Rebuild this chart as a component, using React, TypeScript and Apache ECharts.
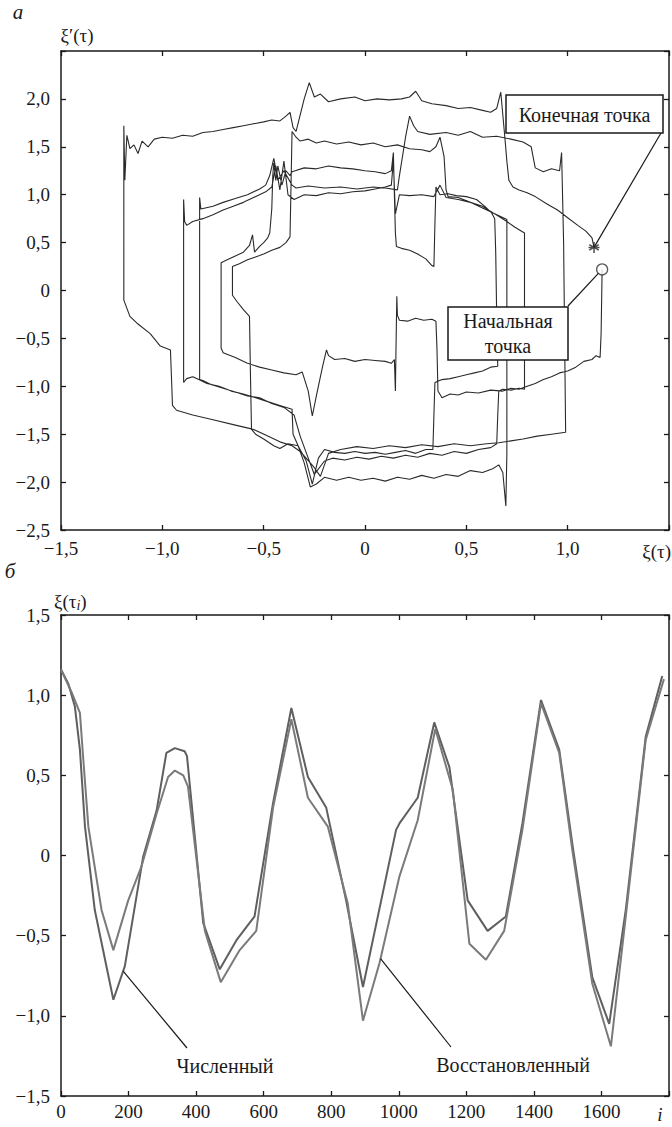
import React, { useEffect, useRef } from "react";
import * as echarts from "echarts";

// ---------- Top chart (а): phase portrait ξ'(τ) vs ξ(τ) ----------
const phaseB1: number[][] = [
  [1.17, 0.22], [1.168, -0.05], [1.165, -0.45], [1.16, -0.7], [1.14, -0.68], [1.12, -0.72], [1.08, -0.74],
  [1.04, -0.8], [1.0, -0.84], [0.96, -0.86], [0.92, -0.9], [0.88, -0.93], [0.84, -0.97], [0.8, -1.0],
  [0.76, -1.03], [0.72, -1.02], [0.68, -1.05], [0.62, -1.04], [0.56, -1.07], [0.5, -1.06], [0.46, -1.09],
  [0.42, -1.08], [0.38, -1.12], [0.36, -1.05], [0.355, -0.6], [0.35, -0.32], [0.33, -0.3], [0.29, -0.31],
  [0.25, -0.29], [0.21, -0.32], [0.17, -0.31], [0.16, -0.26], [0.157, -0.06], [0.153, -0.6], [0.15, -1.05],
  [0.145, -0.72], [0.13, -0.76], [0.1, -0.74], [0.05, -0.73], [0.0, -0.72], [-0.05, -0.74], [-0.1, -0.71],
  [-0.15, -0.72], [-0.18, -0.68], [-0.19, -0.62], [-0.21, -0.8], [-0.24, -1.1], [-0.26, -1.31], [-0.28, -1.05],
  [-0.31, -0.85], [-0.34, -0.88], [-0.4, -0.86], [-0.46, -0.83], [-0.52, -0.8], [-0.58, -0.76], [-0.64, -0.7],
  [-0.7, -0.65], [-0.71, -0.6],
];
const phaseT1: number[][] = [
  [-0.71, 0.0], [-0.71, 0.29], [-0.68, 0.32], [-0.64, 0.36], [-0.6, 0.4], [-0.57, 0.47], [-0.555, 0.58],
  [-0.545, 0.4], [-0.52, 0.46], [-0.5, 0.5], [-0.48, 0.55], [-0.47, 0.6], [-0.46, 0.85], [-0.455, 1.2],
  [-0.45, 1.33], [-0.44, 1.15], [-0.43, 1.3], [-0.41, 1.1], [-0.39, 1.25], [-0.37, 1.2], [-0.36, 1.24],
  [-0.3, 1.28], [-0.24, 1.27], [-0.18, 1.3], [-0.12, 1.28], [-0.06, 1.27], [0.0, 1.25], [0.05, 1.24],
  [0.1, 1.22], [0.13, 1.25], [0.14, 1.44], [0.145, 1.0], [0.15, 0.6], [0.155, 0.46], [0.18, 0.44],
  [0.22, 0.42], [0.26, 0.38], [0.3, 0.33], [0.33, 0.26], [0.34, 0.25], [0.345, 0.7], [0.35, 1.08],
  [0.37, 1.0], [0.41, 1.01], [0.45, 0.99], [0.5, 0.98], [0.55, 0.95], [0.59, 0.88], [0.625, 0.81], [0.64, 0.75],
];
const phaseB2: number[][] = [
  [0.645, 0.4], [0.65, -0.3], [0.655, -0.79], [0.62, -0.8], [0.58, -0.84], [0.54, -0.86], [0.5, -0.88],
  [0.46, -0.9], [0.42, -0.92], [0.38, -0.93], [0.345, -0.96], [0.34, -1.3], [0.335, -1.66], [0.3, -1.66],
  [0.25, -1.7], [0.2, -1.67], [0.15, -1.69], [0.1, -1.71], [0.05, -1.69], [0.0, -1.7], [-0.05, -1.68],
  [-0.1, -1.7], [-0.15, -1.69], [-0.2, -1.66], [-0.23, -1.75], [-0.26, -2.02], [-0.29, -1.78], [-0.33, -1.62],
  [-0.38, -1.6], [-0.42, -1.65], [-0.45, -1.62], [-0.5, -1.55], [-0.54, -1.5], [-0.56, -1.45], [-0.565, -0.9],
  [-0.57, -0.27], [-0.6, -0.2], [-0.63, -0.12], [-0.654, -0.05],
];
const phaseT2: number[][] = [
  [-0.654, 0.25], [-0.62, 0.28], [-0.58, 0.32], [-0.54, 0.35], [-0.5, 0.38], [-0.46, 0.42], [-0.42, 0.45],
  [-0.39, 0.5], [-0.37, 0.56], [-0.365, 1.1], [-0.36, 1.66], [-0.34, 1.6], [-0.32, 1.56], [-0.28, 1.58],
  [-0.24, 1.54], [-0.2, 1.56], [-0.14, 1.53], [-0.08, 1.55], [-0.02, 1.52], [0.04, 1.54], [0.1, 1.5],
  [0.16, 1.52], [0.22, 1.48], [0.28, 1.47], [0.32, 1.45], [0.35, 1.5], [0.37, 1.6], [0.39, 1.4], [0.4, 1.05],
  [0.41, 0.98], [0.46, 0.97], [0.52, 0.92], [0.58, 0.86], [0.64, 0.8], [0.7, 0.74],
];
const phaseB3: number[][] = [
  [0.7, 0.0], [0.7, -1.1], [0.7, -1.7], [0.695, -2.25], [0.68, -1.9], [0.66, -1.82], [0.63, -1.86],
  [0.58, -1.9], [0.52, -1.88], [0.46, -1.94], [0.4, -1.92], [0.34, -1.96], [0.28, -1.93], [0.22, -1.97],
  [0.16, -1.95], [0.1, -1.99], [0.04, -1.96], [-0.02, -1.98], [-0.08, -1.95], [-0.14, -1.98], [-0.2, -1.95],
  [-0.24, -2.02], [-0.27, -2.05], [-0.3, -1.8], [-0.33, -1.62], [-0.355, -1.5], [-0.36, -1.24], [-0.42, -1.2],
  [-0.48, -1.16], [-0.54, -1.12], [-0.6, -1.08], [-0.66, -1.05], [-0.72, -1.0], [-0.78, -0.97], [-0.82, -0.93],
  [-0.85, -0.9], [-0.88, -0.92], [-0.895, -0.96],
];
const phaseT3: number[][] = [
  [-0.895, 0.0], [-0.895, 0.95], [-0.89, 0.72], [-0.88, 0.68], [-0.85, 0.72], [-0.8, 0.75], [-0.75, 0.79],
  [-0.7, 0.84], [-0.65, 0.88], [-0.6, 0.92], [-0.55, 0.97], [-0.49, 1.03], [-0.46, 1.08], [-0.44, 1.3],
  [-0.42, 1.05], [-0.4, 1.35], [-0.38, 1.0], [-0.35, 0.95], [-0.3, 1.0], [-0.24, 0.99], [-0.18, 1.02],
  [-0.12, 1.01], [-0.06, 1.03], [0.0, 1.04], [0.05, 1.06], [0.1, 1.08], [0.13, 1.1], [0.14, 1.35], [0.15, 0.8],
  [0.17, 1.0], [0.22, 0.99], [0.28, 1.0], [0.34, 0.98], [0.37, 1.1], [0.4, 0.97], [0.46, 0.95], [0.52, 0.92],
  [0.58, 0.88], [0.64, 0.8], [0.7, 0.72], [0.74, 0.66], [0.787, 0.6],
];
const phaseB4: number[][] = [
  [0.787, 0.0], [0.787, -1.03], [0.76, -1.02], [0.72, -1.04], [0.68, -1.03], [0.66, -1.05], [0.655, -1.3],
  [0.65, -1.6], [0.62, -1.64], [0.56, -1.66], [0.5, -1.7], [0.44, -1.68], [0.38, -1.72], [0.32, -1.7],
  [0.26, -1.74], [0.2, -1.72], [0.14, -1.75], [0.08, -1.73], [0.02, -1.76], [-0.04, -1.74], [-0.1, -1.77],
  [-0.16, -1.75], [-0.2, -1.78], [-0.25, -1.92], [-0.28, -1.75], [-0.32, -1.52], [-0.35, -1.3], [-0.4, -1.22],
  [-0.46, -1.18], [-0.52, -1.12], [-0.58, -1.1], [-0.64, -1.06], [-0.7, -1.02], [-0.76, -0.98], [-0.8, -0.94],
  [-0.816, -0.93],
];
const phaseT4: number[][] = [
  [-0.816, 0.0], [-0.816, 0.97], [-0.81, 0.85], [-0.75, 0.88], [-0.7, 0.92], [-0.64, 0.96], [-0.58, 1.0],
  [-0.52, 1.06], [-0.49, 1.1], [-0.47, 1.2], [-0.45, 1.38], [-0.43, 1.15], [-0.4, 1.25], [-0.36, 1.1],
  [-0.34, 1.07], [-0.28, 1.09], [-0.2, 1.07], [-0.12, 1.08], [-0.04, 1.06], [0.04, 1.08], [0.1, 1.07],
  [0.16, 1.05], [0.17, 1.2], [0.2, 1.6], [0.22, 1.82], [0.24, 1.72], [0.26, 1.66], [0.32, 1.63], [0.4, 1.65],
  [0.46, 1.62], [0.52, 1.66], [0.58, 1.6], [0.65, 1.61], [0.72, 1.58], [0.78, 1.55], [0.82, 1.5], [0.84, 1.28],
  [0.88, 1.24], [0.92, 1.27], [0.96, 1.25], [0.97, 1.44], [0.98, 0.5],
];
const phaseB5: number[][] = [
  [0.985, -0.5], [0.99, -1.48], [0.92, -1.5], [0.85, -1.52], [0.78, -1.55], [0.72, -1.57], [0.66, -1.59],
  [0.6, -1.6], [0.52, -1.62], [0.44, -1.6], [0.36, -1.63], [0.28, -1.61], [0.2, -1.64], [0.12, -1.62],
  [0.04, -1.65], [-0.04, -1.63], [-0.12, -1.66], [-0.18, -1.7], [-0.22, -1.94], [-0.25, -1.85], [-0.27, -1.8],
  [-0.32, -1.68], [-0.36, -1.62], [-0.42, -1.58], [-0.48, -1.52], [-0.55, -1.45], [-0.65, -1.4], [-0.75, -1.35],
  [-0.85, -1.3], [-0.93, -1.25], [-0.95, -1.2], [-0.955, -0.9], [-0.96, -0.62], [-1.01, -0.58], [-1.06, -0.45],
  [-1.12, -0.35], [-1.16, -0.27], [-1.19, -0.1],
];
const phaseT5: number[][] = [
  [-1.19, 0.5], [-1.19, 1.72], [-1.185, 1.15], [-1.175, 1.62], [-1.16, 1.48], [-1.14, 1.52], [-1.12, 1.43],
  [-1.1, 1.56], [-1.07, 1.5], [-1.04, 1.58], [-1.0, 1.6], [-0.95, 1.59], [-0.9, 1.62], [-0.85, 1.61],
  [-0.8, 1.65], [-0.75, 1.66], [-0.7, 1.68], [-0.65, 1.7], [-0.6, 1.72], [-0.55, 1.74], [-0.5, 1.76],
  [-0.46, 1.78], [-0.42, 1.77], [-0.39, 1.82], [-0.37, 1.86], [-0.355, 1.7], [-0.34, 1.66], [-0.3, 2.0],
  [-0.275, 2.17], [-0.25, 2.02], [-0.22, 2.05], [-0.18, 1.97], [-0.12, 2.0], [-0.05, 2.02], [0.0, 1.98],
  [0.06, 2.0], [0.12, 1.99], [0.18, 2.0], [0.22, 2.02], [0.25, 2.08], [0.28, 1.98], [0.33, 1.95], [0.4, 1.93],
  [0.46, 1.9], [0.52, 1.91], [0.58, 1.88], [0.62, 1.86], [0.65, 1.9], [0.67, 2.07], [0.69, 1.6], [0.7, 1.35],
  [0.71, 1.15], [0.73, 1.08], [0.76, 1.05], [0.8, 1.02], [0.84, 0.98], [0.9, 0.9], [0.95, 0.84], [1.0, 0.76],
  [1.05, 0.68], [1.09, 0.62], [1.12, 0.55], [1.13, 0.45],
];
const startPoint: number[] = [1.17, 0.22];
const endPoint: number[] = [1.13, 0.45];

const topXLabels = ["−1,5", "−1,0", "−0,5", "0", "0,5", "1,0", ""];
const topYLabels = ["−2,5", "−2,0", "−1,5", "−1,0", "−0,5", "0", "0,5", "1,0", "1,5", "2,0", ""];

// ---------- Bottom chart (б): ξ(τi) vs i ----------
const numericalSeries: number[][] = [
  [0, 1.16], [22, 1.07], [41, 0.93], [56, 0.66], [71, 0.18], [100, -0.34], [155, -0.9], [189, -0.69],
  [243, -0.01], [283, 0.28], [312, 0.64], [337, 0.67], [366, 0.65], [373, 0.62], [421, -0.42], [470, -0.71],
  [519, -0.53], [573, -0.38], [628, 0.33], [682, 0.92], [731, 0.49], [785, 0.3], [844, -0.28], [894, -0.82],
  [992, 0.16], [1002, 0.2], [1056, 0.36], [1105, 0.83], [1150, 0.55], [1204, -0.28], [1263, -0.47],
  [1317, -0.38], [1366, 0.2], [1421, 0.97], [1475, 0.66], [1514, 0.07], [1573, -0.76], [1623, -1.05],
  [1672, -0.34], [1731, 0.74], [1780, 1.12],
];
const restoredSeries: number[][] = [
  [0, 1.16], [31, 1.02], [56, 0.89], [66, 0.6], [81, 0.18], [120, -0.34], [155, -0.59], [199, -0.28],
  [238, -0.07], [283, 0.26], [317, 0.49], [337, 0.53], [362, 0.5], [376, 0.43], [426, -0.47], [473, -0.79],
  [529, -0.59], [578, -0.47], [628, 0.3], [682, 0.85], [731, 0.36], [790, 0.18], [849, -0.3], [894, -1.03],
  [943, -0.67], [1002, -0.13], [1056, 0.22], [1108, 0.79], [1160, 0.41], [1209, -0.55], [1258, -0.65],
  [1312, -0.47], [1366, 0.16], [1421, 0.95], [1475, 0.64], [1514, 0.03], [1573, -0.8], [1628, -1.19],
  [1672, -0.38], [1731, 0.72], [1785, 1.1],
];
const numericalPointerI = 184;
const restoredPointerI = 946;

const bottomXLabels = ["0", "200", "400", "600", "800", "1000", "1200", "1400", "1600", ""];
const bottomYLabels = ["−1,5", "−1,0", "−0,5", "0", "0,5", "1,0", "1,5"];

const FONT = "Liberation Serif";
const INK = "#1a1a1a";
const TICK_SIZE = 19;
const NOTE_SIZE = 20;

function interp(data: number[][], x: number): number {
  for (let k = 0; k < data.length - 1; k++) {
    const a = data[k], b = data[k + 1];
    if (x >= a[0] && x <= b[0]) return a[1] + ((x - a[0]) / (b[0] - a[0])) * (b[1] - a[1]);
  }
  return data[data.length - 1][1];
}

function labelFrom(labels: string[], min: number, step: number) {
  return (v: number) => {
    const k = Math.round((v - min) / step);
    return labels[k] ?? "";
  };
}

function frameAxis(extra: any) {
  return {
    type: "value",
    splitLine: { show: false },
    axisLine: { show: true, onZero: false, lineStyle: { color: INK, width: 1.5 } },
    axisTick: { show: true, inside: true, length: 5, lineStyle: { color: INK, width: 1.3 } },
    ...extra,
  };
}

export default function App() {
  const ref = useRef<HTMLDivElement>(null);
  useEffect(() => {
    if (!ref.current) return;
    const chart = echarts.init(ref.current, null, { renderer: "svg" });
    const phasePath = [
      ...phaseB1, ...phaseT1, ...phaseB2, ...phaseT2, ...phaseB3,
      ...phaseT3, ...phaseB4, ...phaseT4, ...phaseB5, ...phaseT5,
    ];
    const lbl = (labels: string[], min: number, step: number, margin: number) => ({
      show: true,
      formatter: labelFrom(labels, min, step),
      fontSize: TICK_SIZE,
      fontFamily: FONT,
      color: INK,
      margin,
    });
    const asterisk = "path://M5 0 L5 10 M0.67 2.5 L9.33 7.5 M0.67 7.5 L9.33 2.5 M0 5 L10 5";
    chart.setOption({
      animation: false,
      backgroundColor: "#fff",
      textStyle: { fontFamily: FONT },
      grid: [
        { left: 61, top: 51, width: 610, height: 479 },
        { left: 61, top: 615, width: 609, height: 481 },
      ],
      xAxis: [
        frameAxis({ gridIndex: 0, min: -1.5, max: 1.5, interval: 0.5, position: "bottom", axisLabel: lbl(topXLabels, -1.5, 0.5, 9) }),
        frameAxis({ gridIndex: 0, min: -1.5, max: 1.5, interval: 0.5, position: "top", axisLabel: { show: false } }),
        frameAxis({ gridIndex: 1, min: 0, max: 1800, interval: 200, position: "bottom", axisLabel: lbl(bottomXLabels, 0, 200, 6) }),
        frameAxis({ gridIndex: 1, min: 0, max: 1800, interval: 200, position: "top", axisLabel: { show: false } }),
      ],
      yAxis: [
        frameAxis({ gridIndex: 0, min: -2.5, max: 2.5, interval: 0.5, position: "left", axisLabel: lbl(topYLabels, -2.5, 0.5, 11) }),
        frameAxis({ gridIndex: 0, min: -2.5, max: 2.5, interval: 0.5, position: "right", axisLabel: { show: false } }),
        frameAxis({ gridIndex: 1, min: -1.5, max: 1.5, interval: 0.5, position: "left", axisLabel: lbl(bottomYLabels, -1.5, 0.5, 11) }),
        frameAxis({ gridIndex: 1, min: -1.5, max: 1.5, interval: 0.5, position: "right", axisLabel: { show: false } }),
      ],
      series: [
        {
          type: "line", xAxisIndex: 0, yAxisIndex: 0, data: phasePath, symbol: "none", silent: true,
          lineStyle: { color: "#2a2a2a", width: 1.1 },
        },
        {
          type: "scatter", xAxisIndex: 0, yAxisIndex: 0, data: [startPoint], symbol: "circle", symbolSize: 11,
          itemStyle: { color: "#fff", borderColor: "#333", borderWidth: 1.3 }, z: 5, silent: true,
        },
        {
          type: "scatter", xAxisIndex: 0, yAxisIndex: 0, data: [endPoint], symbol: asterisk, symbolSize: 11,
          itemStyle: { color: "none", borderColor: "#222", borderWidth: 1.5 }, z: 5, silent: true,
        },
        {
          name: "Численный", type: "line", xAxisIndex: 2, yAxisIndex: 2, data: numericalSeries, symbol: "none",
          lineStyle: { color: "#5f5f5f", width: 2 }, silent: true,
        },
        {
          name: "Восстановленный", type: "line", xAxisIndex: 2, yAxisIndex: 2, data: restoredSeries, symbol: "none",
          lineStyle: { color: "#7a7a7a", width: 2 }, silent: true,
        },
      ],
    });

    const sp = chart.convertToPixel({ gridIndex: 0 }, startPoint) as number[];
    const ep = chart.convertToPixel({ gridIndex: 0 }, endPoint) as number[];
    const np = chart.convertToPixel({ gridIndex: 1 }, [numericalPointerI, interp(numericalSeries, numericalPointerI)]) as number[];
    const rp = chart.convertToPixel({ gridIndex: 1 }, [restoredPointerI, interp(restoredSeries, restoredPointerI)]) as number[];

    const sbx = 568, sby = 306;
    const dx = sp[0] - sbx, dy = sp[1] - sby, dl = Math.hypot(dx, dy) || 1;
    const sEnd = [sp[0] - (dx / dl) * 5.5, sp[1] - (dy / dl) * 5.5];

    const txt = (id: string, text: string, x: number, y: number, opts: any = {}) => ({
      type: "text", id, x, y, z: 110,
      style: {
        text, fill: INK, fontSize: TICK_SIZE, fontFamily: FONT, align: "center", verticalAlign: "middle", ...opts,
      },
    });
    const seg = (id: string, x1: number, y1: number, x2: number, y2: number) => ({
      type: "line", id, z: 105, shape: { x1, y1, x2, y2 }, style: { stroke: INK, lineWidth: 1.2 },
    });

    chart.setOption({
      graphic: [
        txt("lbl-a", "а", 18, 12, { fontStyle: "italic", fontSize: 21 }),
        txt("lbl-dxi", "ξ′(τ)", 77, 35),
        txt("lbl-xi", "ξ(τ)", 671, 551, { align: "right" }),
        txt("lbl-b", "б", 10, 571, { fontStyle: "italic", fontSize: 21 }),
        {
          type: "text", id: "lbl-xii", x: 54, y: 601, z: 110,
          style: {
            text: "{a|ξ(τ}{b|i}{a|)}", align: "left", verticalAlign: "middle",
            rich: {
              a: { fontSize: TICK_SIZE, fontFamily: FONT, fill: INK, lineHeight: 22, verticalAlign: "middle" },
              b: { fontSize: 14, fontFamily: FONT, fontStyle: "italic", fill: INK, lineHeight: 22, verticalAlign: "bottom" },
            },
          },
        },
        txt("lbl-i", "i", 660, 1114, { fontStyle: "italic" }),
        seg("ptr-end", 661, 133, ep[0], ep[1]),
        {
          type: "rect", id: "box-end", z: 106, shape: { x: 506, y: 95, width: 157, height: 38 },
          style: { fill: "#fff", stroke: INK, lineWidth: 1.5 },
        },
        txt("txt-end", "Конечная точка", 584.5, 114.5, { fontSize: NOTE_SIZE }),
        seg("ptr-start", sbx, sby, sEnd[0], sEnd[1]),
        {
          type: "rect", id: "box-start", z: 106, shape: { x: 448, y: 307, width: 120, height: 53 },
          style: { fill: "#fff", stroke: INK, lineWidth: 1.5 },
        },
        txt("txt-start1", "Начальная", 508, 321, { fontSize: NOTE_SIZE }),
        txt("txt-start2", "точка", 508, 346, { fontSize: NOTE_SIZE }),
        seg("ptr-num", np[0], np[1], 187, 1048),
        txt("txt-num", "Численный", 225, 1066, { fontSize: NOTE_SIZE }),
        seg("ptr-rest", rp[0], rp[1], 451, 1047),
        txt("txt-rest", "Восстановленный", 513, 1065, { fontSize: NOTE_SIZE }),
      ],
    });

    return () => chart.dispose();
  }, []);

  return (
    <div
      ref={ref}
      style={{ position: "absolute", left: 0, top: 0, width: 672, height: 1127, background: "#fff" }}
    />
  );
}
